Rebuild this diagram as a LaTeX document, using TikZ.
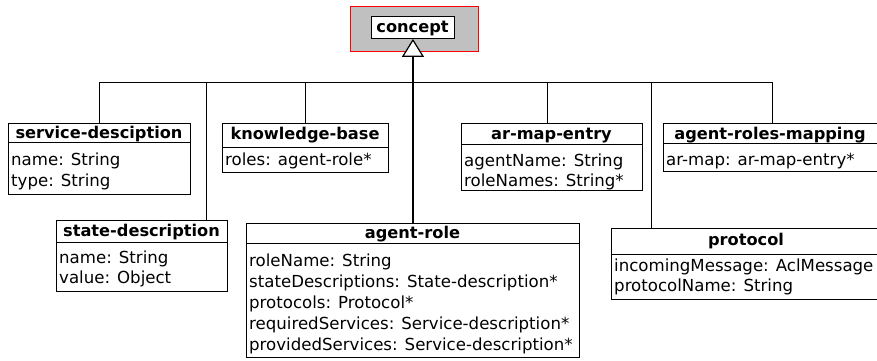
\documentclass[tikz,border=0pt]{standalone}
\usepackage{fontspec}
\setmainfont{DejaVu Sans}
\usetikzlibrary{arrows.meta}
\definecolor{conceptgray}{RGB}{192,192,192}
\begin{document}
\begin{tikzpicture}[x=1pt,y=-1pt,
  classbox/.style={draw=black, line width=0.9pt, fill=white, inner sep=0pt, anchor=north west},
  head/.style={font=\fontsize{16.2}{19}\selectfont\bfseries, inner sep=0pt, anchor=base},
  attr/.style={font=\fontsize{16.6}{19}\selectfont, inner sep=0pt, anchor=base west},
  sep/.style={draw=black, line width=0.9pt},
  link/.style={draw=black, line width=1pt}]
\useasboundingbox (0,0) rectangle (877,360);
\clip (0,0) rectangle (877,360);

% root concept
\node[draw=red, fill=conceptgray, line width=0.9pt, inner sep=0pt, anchor=north west,
      minimum width=128pt, minimum height=45pt] (cbg) at (350,6) {};
\node[classbox, minimum width=83pt, minimum height=22pt] (concept) at (371,16) {};
\node[head] (conceptlbl) at (412.5,32) {concept};

% service-desciption
\node[classbox, minimum width=182pt, minimum height=71pt] (svc) at (8,123) {};
\draw[sep] ([yshift=-19pt]svc.north west) -- ([yshift=-19pt]svc.north east);
\node[head] (svch) at (99,138) {service-desciption};
\node[attr] (svc1) at (11,165) {name: String};
\node[attr] (svc2) at (11,186) {type: String};

% state-description
\node[classbox, minimum width=171pt, minimum height=71pt] (st) at (56,220) {};
\draw[sep] ([yshift=-22pt]st.north west) -- ([yshift=-22pt]st.north east);
\node[head] (sth) at (141.5,236) {state-description};
\node[attr] (st1) at (59,263) {name: String};
\node[attr] (st2) at (59,283) {value: Object};

% knowledge-base
\node[classbox, minimum width=166pt, minimum height=49pt] (kb) at (222,123) {};
\draw[sep] ([yshift=-24pt]kb.north west) -- ([yshift=-24pt]kb.north east);
\node[head] (kbh) at (305,139) {knowledge-base};
\node[attr] (kb1) at (225,165) {roles: agent-role*};

% agent-role
\node[classbox, minimum width=333pt, minimum height=134pt] (ar) at (246,223) {};
\draw[sep] ([yshift=-20pt]ar.north west) -- ([yshift=-20pt]ar.north east);
\node[head] (arh) at (412.5,238) {agent-role};
\node[attr] (ar1) at (249,266) {roleName: String};
\node[attr] (ar2) at (249,287) {stateDescriptions: State-description*};
\node[attr] (ar3) at (249,308) {protocols: Protocol*};
\node[attr] (ar4) at (249,329) {requiredServices: Service-description*};
\node[attr] (ar5) at (249,350) {providedServices: Service-description*};

% ar-map-entry
\node[classbox, minimum width=181pt, minimum height=67pt] (me) at (461,123) {};
\draw[sep] ([yshift=-21pt]me.north west) -- ([yshift=-21pt]me.north east);
\node[head] (meh) at (551.5,139) {ar-map-entry};
\node[attr] (me1) at (464,166) {agentName: String};
\node[attr] (me2) at (464,186) {roleNames: String*};

% agent-roles-mapping
\node[classbox, minimum width=218pt, minimum height=48pt] (arm) at (663,123) {};
\draw[sep] ([yshift=-20pt]arm.north west) -- ([yshift=-20pt]arm.north east);
\node[head] (armh) at (770,139) {agent-roles-mapping};
\node[attr] (arm1) at (666,165) {ar-map: ar-map-entry*};

% protocol
\node[classbox, minimum width=270pt, minimum height=71pt] (pr) at (611,228) {};
\draw[sep] ([yshift=-26pt]pr.north west) -- ([yshift=-26pt]pr.north east);
\node[head] (prh) at (746,245) {protocol};
\node[attr] (pr1) at (614,271) {incomingMessage: AclMessage};
\node[attr] (pr2) at (614,291) {protocolName: String};

% generalisation tree
\coordinate (bus) at (412,82);
\draw[link, line width=1.4pt, -{Triangle[open, fill=white, width=22pt, length=18pt, line width=1.2pt]}]
  (ar.north) -- (concept.south);
\draw[link] (svc.north) -- (svc.north |- bus) -- (arm.north |- bus) -- (arm.north);
\draw[link] ([xshift=-21pt]st.north east) -- ([xshift=-21pt]st.north east |- bus);
\draw[link] (kb.north) -- (kb.north |- bus);
\draw[link] ([xshift=-4.5pt]me.north) -- ([xshift=-4.5pt]me.north |- bus);
\draw[link] ([xshift=40pt]pr.north west) -- ([xshift=40pt]pr.north west |- bus);
\end{tikzpicture}
\end{document}
